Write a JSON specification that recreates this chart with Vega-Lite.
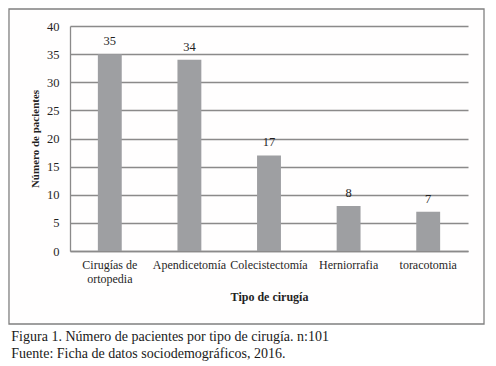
{
  "$schema": "https://vega.github.io/schema/vega-lite/v6.json",
  "width": 398,
  "height": 225,
  "autosize": {"type": "none"},
  "padding": {"left": 70, "top": 26, "right": 28, "bottom": 115},
  "background": "white",
  "config": {"view": {"stroke": null}, "font": "Liberation Serif"},
  "title": {
    "text": "Figura 1.  Número de pacientes por tipo de cirugía. n:101",
    "subtitle": "Fuente: Ficha de datos sociodemográficos, 2016.",
    "orient": "bottom",
    "anchor": "start",
    "frame": "bounds",
    "font": "Liberation Serif",
    "fontSize": 14,
    "fontWeight": "normal",
    "color": "#1a1a1a",
    "subtitleFont": "Liberation Serif",
    "subtitleFontSize": 14,
    "subtitleColor": "#1a1a1a",
    "subtitlePadding": 3,
    "offset": 5,
    "dx": 3
  },
  "data": {
    "values": [
      {"tipo": "Cirugías de ortopedia", "n": 35},
      {"tipo": "Apendicetomía", "n": 34},
      {"tipo": "Colecistectomía", "n": 17},
      {"tipo": "Herniorrafia", "n": 8},
      {"tipo": "toracotomia", "n": 7}
    ]
  },
  "layer": [
    {
      "encoding": {
        "x": {
          "field": "tipo",
          "type": "nominal",
          "sort": null,
          "scale": {"paddingInner": 0.7, "paddingOuter": 0.35},
          "axis": {
            "title": "Tipo de cirugía",
            "titleFont": "Liberation Serif",
            "titleFontSize": 12,
            "titleFontWeight": "bold",
            "titleColor": "#1a1a1a",
            "titlePadding": 7,
            "labelAngle": 0,
            "labelFont": "Liberation Serif",
            "labelFontSize": 12,
            "labelColor": "#1a1a1a",
            "labelPadding": 8,
            "labelLineHeight": 14,
            "labelOverlap": false,
            "labelBound": false,
            "labelExpr": "datum.label == 'Cirugías de ortopedia' ? ['Cirugías de', 'ortopedia'] : datum.label",
            "ticks": false,
            "domainColor": "#888888",
            "domainWidth": 1.3
          }
        },
        "y": {
          "field": "n",
          "type": "quantitative",
          "scale": {"domain": [0, 40]},
          "title": "Número de pacientes",
          "axis": {
            "values": [0, 5, 10, 15, 20, 25, 30, 35, 40],
            "titleFont": "Liberation Serif",
            "titleFontSize": 11,
            "titleFontWeight": "bold",
            "titleColor": "#1a1a1a",
            "titlePadding": 6,
            "labelFont": "Liberation Serif",
            "labelFontSize": 12.5,
            "labelColor": "#1a1a1a",
            "labelPadding": 11,
            "ticks": false,
            "grid": true,
            "gridColor": "#888888",
            "gridWidth": 1.3,
            "domainColor": "#888888",
            "domainWidth": 1.3
          }
        }
      },
      "layer": [
        {"mark": {"type": "bar", "color": "#9b9da0"}},
        {
          "mark": {"type": "text", "baseline": "alphabetic", "dy": -9, "font": "Liberation Serif", "fontSize": 12.5, "color": "#1a1a1a"},
          "encoding": {"text": {"field": "n", "type": "quantitative"}}
        }
      ]
    },
    {
      "data": {"values": [{"k": 1}]},
      "mark": {"type": "rect", "fill": "#ffdddd", "fillOpacity": 0.03, "stroke": "#808080", "strokeWidth": 1.3, "clip": false},
      "encoding": {
        "x": {"datum": -0.1533, "type": "quantitative", "scale": {"domain": [0, 1]}, "axis": null},
        "x2": {"datum": 1.0402},
        "y": {"datum": 1.0756, "type": "quantitative", "scale": {"domain": [0, 1]}, "axis": null},
        "y2": {"datum": -0.3244}
      }
    }
  ],
  "resolve": {"scale": {"x": "independent", "y": "independent"}, "axis": {"y": "independent"}}
}
